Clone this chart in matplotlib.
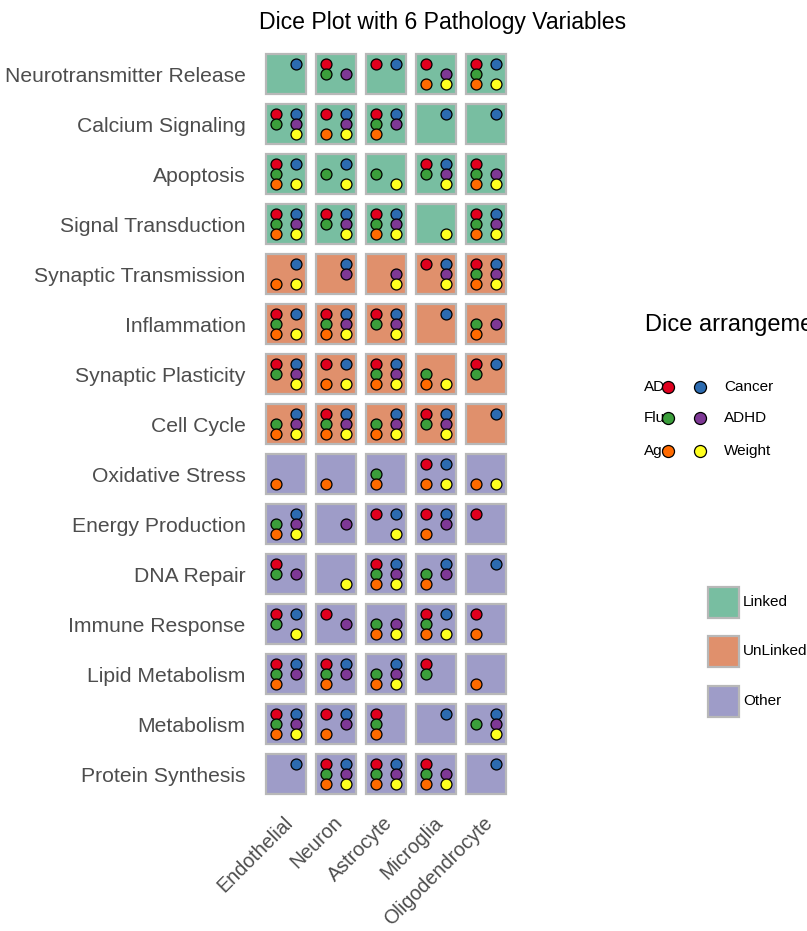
import matplotlib
matplotlib.use('Agg')
import matplotlib.pyplot as plt
import matplotlib.transforms as mtransforms
from matplotlib.patches import Rectangle

plt.rcParams['font.family'] = ['Liberation Sans', 'DejaVu Sans']

# ---------------- data ----------------
pathways = ["Neurotransmitter Release", "Calcium Signaling", "Apoptosis",
            "Signal Transduction", "Synaptic Transmission", "Inflammation",
            "Synaptic Plasticity", "Cell Cycle", "Oxidative Stress",
            "Energy Production", "DNA Repair", "Immune Response",
            "Lipid Metabolism", "Metabolism", "Protein Synthesis"]
cell_types = ["Endothelial", "Neuron", "Astrocyte", "Microglia", "Oligodendrocyte"]
pathway_group = ["Linked"] * 4 + ["UnLinked"] * 4 + ["Other"] * 7
groups = ["Linked", "UnLinked", "Other"]
group_colors = ["#78BEA1", "#E0906C", "#9E9CC8"]

variables = ["AD", "Flu", "Age", "Cancer", "ADHD", "Weight"]
var_codes = ["A", "F", "G", "C", "H", "W"]
var_colors = ["#E0001E", "#3B9E3B", "#FF6A00", "#2C6BB0", "#7E3895", "#FFFF1F"]

# present variables per (pathway, cell type)
dice = [
    ["C", "AFH", "AC", "AGHW", "AFGCW"],
    ["AFCHW", "AGCHW", "AFGCH", "C", "C"],
    ["AFGCW", "FCW", "FW", "AFCHW", "AFGHW"],
    ["AFGCHW", "AFCHW", "AFGCHW", "W", "AFGCHW"],
    ["GCW", "CH", "HW", "ACHW", "AFGCHW"],
    ["AFGCW", "AFGCHW", "AFCHW", "C", "FGH"],
    ["AFCHW", "AGCW", "AFGCHW", "FGW", "AFC"],
    ["FGCHW", "AFGCHW", "FGCHW", "AFCHW", "C"],
    ["G", "G", "FG", "AGCW", "GW"],
    ["FGCHW", "H", "ACW", "AGCH", "A"],
    ["AFH", "W", "AFGCHW", "FGCH", "C"],
    ["AFCW", "AH", "FGHW", "AFGCW", "AG"],
    ["AFGCH", "AFGCH", "FGCHW", "AF", "G"],
    ["AFGCHW", "AGCH", "AFG", "C", "FCHW"],
    ["C", "AFGCHW", "AFGCHW", "AFGHW", "C"],
]

# ---------------- figure ----------------
W, H = 807, 931
fig = plt.figure(figsize=(W / 100, H / 100), dpi=100)
ax = fig.add_axes([261 / W, 1 - 799 / H, 250 / W, 750 / H])
ax.set_xlim(-0.5, len(cell_types) - 0.5)
ax.set_ylim(len(pathways) - 0.5, -0.5)

offs = {0: (-0.2, -0.2), 1: (-0.2, 0.0), 2: (-0.2, 0.2),
        3: (0.2, -0.2), 4: (0.2, 0.0), 5: (0.2, 0.2)}
tile = 0.8
for i, p in enumerate(pathways):
    gcol = group_colors[groups.index(pathway_group[i])]
    for j, c in enumerate(cell_types):
        ax.add_patch(Rectangle((j - tile / 2, i - tile / 2), tile, tile,
                               facecolor=gcol, edgecolor="#B8B8B8", lw=1.6, zorder=1))
        present = dice[i][j]
        for k, code in enumerate(var_codes):
            if code in present:
                dx, dy = offs[k]
                ax.scatter(j + dx, i + dy, s=62, color=var_colors[k],
                           edgecolor="black", linewidth=0.9, zorder=3)

ax.set_xticks(range(len(cell_types)))
ax.set_xticklabels(cell_types, rotation=45, ha='right', va='top',
                   rotation_mode='anchor', fontsize=14.2, color='#4D4D4D')
ax.set_yticks(range(len(pathways)))
ax.set_yticklabels(pathways, fontsize=15.2, color='#4D4D4D')
ax.tick_params(length=0)
ax.tick_params(axis='y', pad=11)
ax.tick_params(axis='x', pad=10)
off = mtransforms.ScaledTranslation(-3 / 100, 0, fig.dpi_scale_trans)
for lab in ax.get_xticklabels():
    lab.set_transform(lab.get_transform() + off)
for s in ax.spines.values():
    s.set_visible(False)

fig.text(443 / W, 1 - 22 / H, "Dice Plot with 6 Pathology Variables",
         ha='center', va='center', fontsize=16.6)

# ---------------- legends ----------------
lax = fig.add_axes([0, 0, 1, 1], facecolor='none')
lax.set_xlim(0, W)
lax.set_ylim(H, 0)
lax.axis('off')

lax.text(645, 325, "Dice arrangement", ha='left', va='center', fontsize=17, clip_on=False)
rows_y = [387, 418, 451]
for r in range(3):
    lax.text(644, rows_y[r], variables[r], ha='left', va='center', fontsize=11)
    lax.scatter(668, rows_y[r], s=75, color=var_colors[r], edgecolor='black', linewidth=0.9, zorder=3)
    lax.scatter(700, rows_y[r], s=75, color=var_colors[r + 3], edgecolor='black', linewidth=0.9, zorder=3)
    lax.text(724, rows_y[r], variables[r + 3], ha='left', va='center', fontsize=11)

sq_y = [602, 651, 701]
for r, g in enumerate(groups):
    lax.add_patch(Rectangle((708, sq_y[r] - 15), 31, 31, facecolor=group_colors[r],
                            edgecolor='#B8B8B8', lw=1.6))
    lax.text(743, sq_y[r], g, ha='left', va='center', fontsize=11)

fig.savefig("out.png", dpi=100)
